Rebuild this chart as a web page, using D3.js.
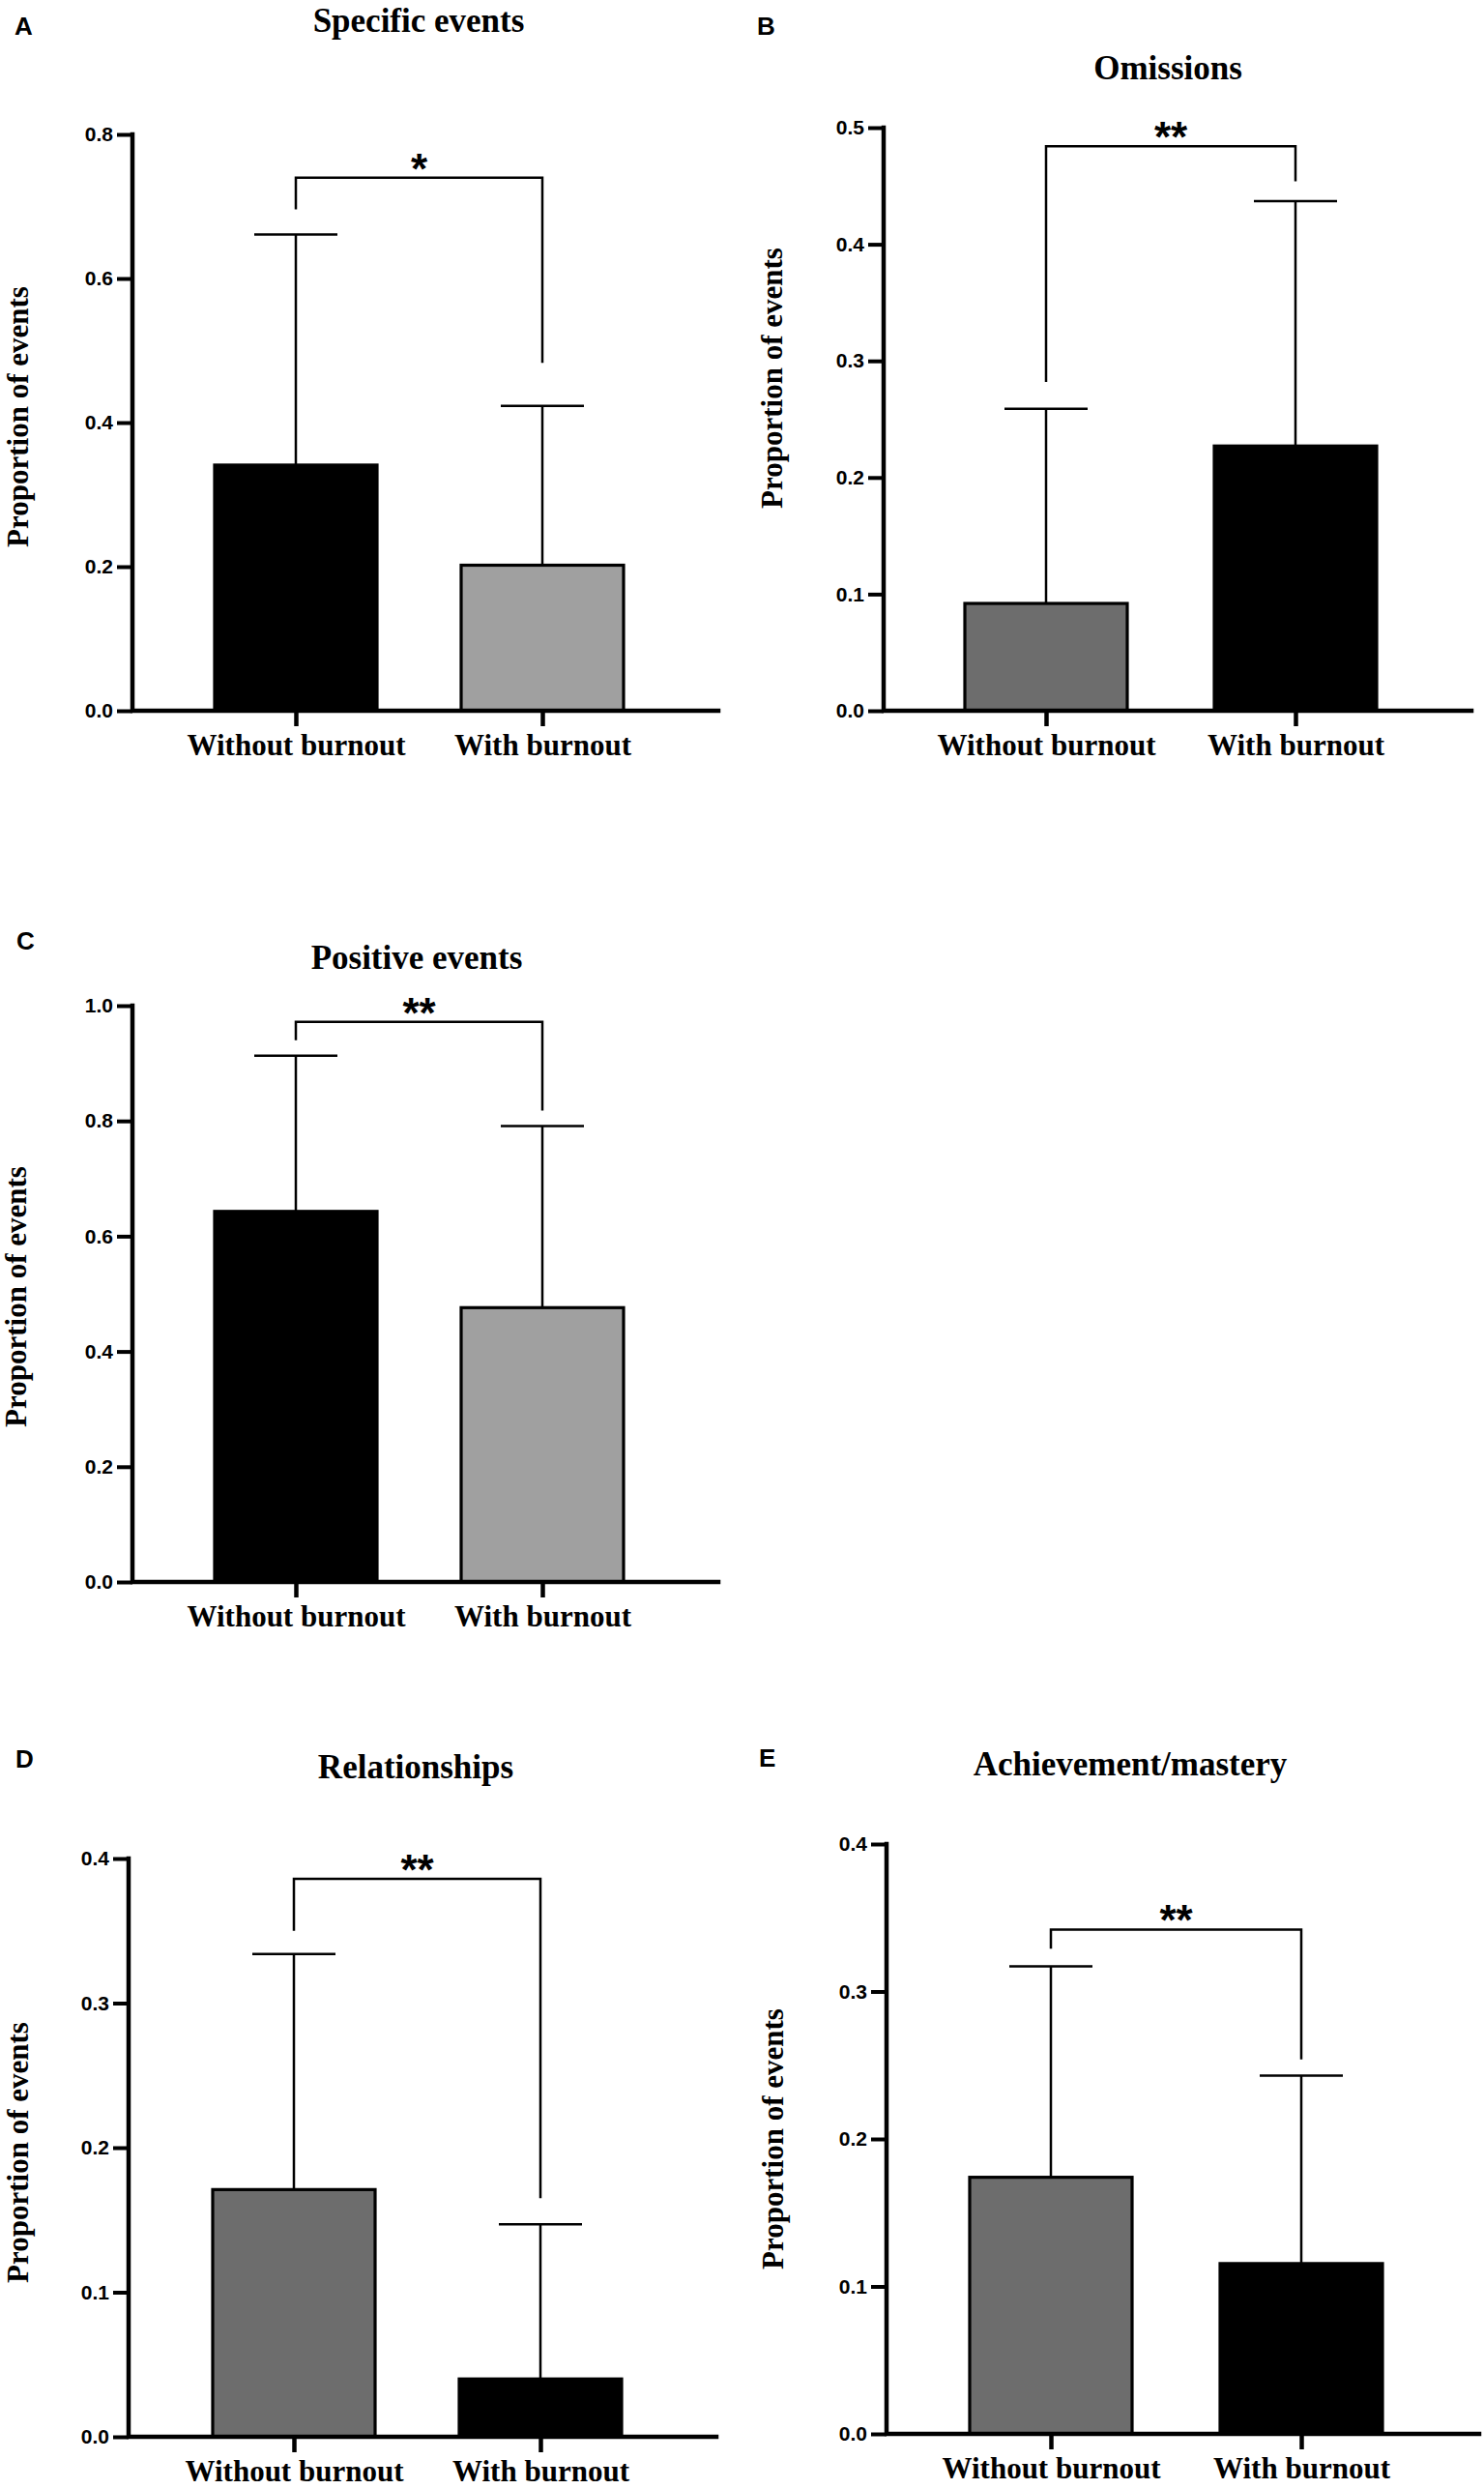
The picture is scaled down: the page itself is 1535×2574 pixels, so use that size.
<!DOCTYPE html>
<html>
<head>
<meta charset="utf-8">
<script src="https://cdn.jsdelivr.net/npm/d3@7"></script>
<style>
  html, body { margin: 0; padding: 0; background: #fff; }
  svg { display: block; }
</style>
</head>
<body>
<script>
// ---------------- DATA ----------------
const categories = ["Without burnout", "With burnout"];
const panelLetters = ["A", "B", "C", "D", "E"];
const panelTitles = ["Specific events", "Omissions", "Positive events", "Relationships", "Achievement/mastery"];
const yAxisLabel = "Proportion of events";
const yMaxValues = [0.8, 0.5, 1.0, 0.4, 0.4];
const tickSteps = [0.2, 0.1, 0.2, 0.1, 0.1];
const meanWithout = [0.341, 0.092, 0.643, 0.171, 0.174];
const meanWith = [0.202, 0.227, 0.476, 0.040, 0.1155];
const errTopWithout = [0.661, 0.259, 0.913, 0.334, 0.317];
const errTopWith = [0.423, 0.437, 0.791, 0.147, 0.243];
const bracketLevel = [0.740, 0.484, 0.972, 0.386, 0.342];
const bracketLegWithout = [0.696, 0.282, 0.940, 0.350, 0.329];
const bracketLegWith = [0.483, 0.454, 0.818, 0.165, 0.254];
const sigLabels = ["*", "**", "**", "**", "**"];

// ---------------- STYLE / LAYOUT ----------------
const BLACK = "#000000", LIGHT = "#a0a0a0", DARK = "#6d6d6d";
const fillWithout = [BLACK, DARK, BLACK, DARK, DARK];
const fillWith = [LIGHT, BLACK, LIGHT, BLACK, BLACK];

// per-panel layout: axis x, y of top tick, y of zero, x end of x-axis, bar centre offsets
const layout = [
  { ax: 137, yTop: 139,  y0: 735,  xEnd: 743,  c1: 169, c2: 424, tx: 433,  ty: 33,   lx: 15,  ly: 36,   ylx: 29,  yly: 431 },
  { ax: 914, yTop: 132,  y0: 735,  xEnd: 1522, c1: 168, c2: 426, tx: 1208, ty: 82,   lx: 783, ly: 36,   ylx: 809, yly: 391 },
  { ax: 137, yTop: 1040, y0: 1636, xEnd: 743,  c1: 169, c2: 424, tx: 431,  ty: 1002, lx: 17,  ly: 982,  ylx: 27,  yly: 1341 },
  { ax: 133, yTop: 1922, y0: 2520, xEnd: 741,  c1: 171, c2: 426, tx: 430,  ty: 1839, lx: 16,  ly: 1828, ylx: 29,  yly: 2226 },
  { ax: 917, yTop: 1907, y0: 2517, xEnd: 1530, c1: 170, c2: 429, tx: 1169, ty: 1836, lx: 785, ly: 1827, ylx: 810, yly: 2212 }
];
const barWidth = 168;
const capWidth = 86;

const SERIF = "'Liberation Serif', 'Times New Roman', serif";
const SANS = "'Liberation Sans', Arial, sans-serif";

const W = 1535, H = 2574;
const svg = d3.select("body").append("svg")
  .attr("width", W).attr("height", H)
  .attr("viewBox", `0 0 ${W} ${H}`);

panelTitles.forEach((title, i) => {
  const L = layout[i];
  const g = svg.append("g").attr("class", "panel-" + panelLetters[i]);

  const y = d3.scaleLinear().domain([0, yMaxValues[i]]).range([L.y0, L.yTop]);
  const x = d3.scalePoint().domain(categories).range([L.ax + L.c1, L.ax + L.c2]);

  const ticks = d3.range(0, yMaxValues[i] + 1e-9, tickSteps[i]);

  const rows = categories.map((c, j) => ({
    cat: c,
    mean: j === 0 ? meanWithout[i] : meanWith[i],
    top: j === 0 ? errTopWithout[i] : errTopWith[i],
    fill: j === 0 ? fillWithout[i] : fillWith[i]
  }));

  // error bars (drawn first, above bar tops)
  g.selectAll("line.err").data(rows).enter().append("line")
    .attr("class", "err")
    .attr("x1", d => x(d.cat)).attr("x2", d => x(d.cat))
    .attr("y1", d => y(d.mean)).attr("y2", d => y(d.top))
    .attr("stroke", BLACK).attr("stroke-width", 2.5);
  g.selectAll("line.cap").data(rows).enter().append("line")
    .attr("class", "cap")
    .attr("x1", d => x(d.cat) - capWidth / 2).attr("x2", d => x(d.cat) + capWidth / 2)
    .attr("y1", d => y(d.top)).attr("y2", d => y(d.top))
    .attr("stroke", BLACK).attr("stroke-width", 2.5);

  // bars
  g.selectAll("rect.bar").data(rows).enter().append("rect")
    .attr("class", "bar")
    .attr("x", d => x(d.cat) - barWidth / 2)
    .attr("width", barWidth)
    .attr("y", d => y(d.mean))
    .attr("height", d => y(0) - y(d.mean))
    .attr("fill", d => d.fill)
    .attr("stroke", BLACK).attr("stroke-width", 3.2);

  // significance bracket
  const bx1 = x(categories[0]), bx2 = x(categories[1]);
  const by = y(bracketLevel[i]);
  g.append("path")
    .attr("d", `M${bx1},${y(bracketLegWithout[i])}V${by}H${bx2}V${y(bracketLegWith[i])}`)
    .attr("fill", "none").attr("stroke", BLACK).attr("stroke-width", 2.5);
  g.append("text")
    .attr("x", (bx1 + bx2) / 2).attr("y", by + 6)
    .attr("text-anchor", "middle")
    .style("font-family", SANS).style("font-weight", "bold").style("font-size", "44px")
    .text(sigLabels[i]);

  // y axis
  const yAxis = d3.axisLeft(y).tickValues(ticks).tickFormat(d3.format(".1f"))
    .tickSize(16).tickPadding(4).tickSizeOuter(0);
  const ya = g.append("g").attr("transform", `translate(${L.ax},0)`).call(yAxis);
  ya.select(".domain").remove();
  ya.selectAll(".tick line").attr("stroke", BLACK).attr("stroke-width", 4);
  ya.selectAll(".tick text")
    .style("font-family", SANS).style("font-weight", "bold").style("font-size", "21px")
    .attr("fill", BLACK);

  // x axis
  const xAxis = d3.axisBottom(x).tickSize(16).tickPadding(14).tickSizeOuter(0);
  const xa = g.append("g").attr("transform", `translate(0,${L.y0})`).call(xAxis);
  xa.select(".domain").remove();
  xa.selectAll(".tick line").attr("stroke", BLACK).attr("stroke-width", 4.5);
  xa.selectAll(".tick text")
    .attr("dy", null).attr("y", 46)
    .style("font-family", SERIF).style("font-weight", "bold").style("font-size", "31px")
    .attr("fill", BLACK);

  // axis lines
  g.append("path")
    .attr("d", `M${L.ax},${L.yTop}V${L.y0}H${L.xEnd}`)
    .attr("fill", "none").attr("stroke", BLACK).attr("stroke-width", 4.5)
    .attr("stroke-linecap", "square");

  // title
  g.append("text")
    .attr("x", L.tx).attr("y", L.ty).attr("text-anchor", "middle")
    .style("font-family", SERIF).style("font-weight", "bold").style("font-size", "35px")
    .text(title);

  // panel letter
  g.append("text")
    .attr("x", L.lx).attr("y", L.ly)
    .style("font-family", SANS).style("font-weight", "bold").style("font-size", "26px")
    .text(panelLetters[i]);

  // y label
  g.append("text")
    .attr("transform", `translate(${L.ylx},${L.yly}) rotate(-90)`)
    .attr("text-anchor", "middle")
    .style("font-family", SERIF).style("font-weight", "bold").style("font-size", "31px")
    .text(yAxisLabel);
});
</script>
</body>
</html>
